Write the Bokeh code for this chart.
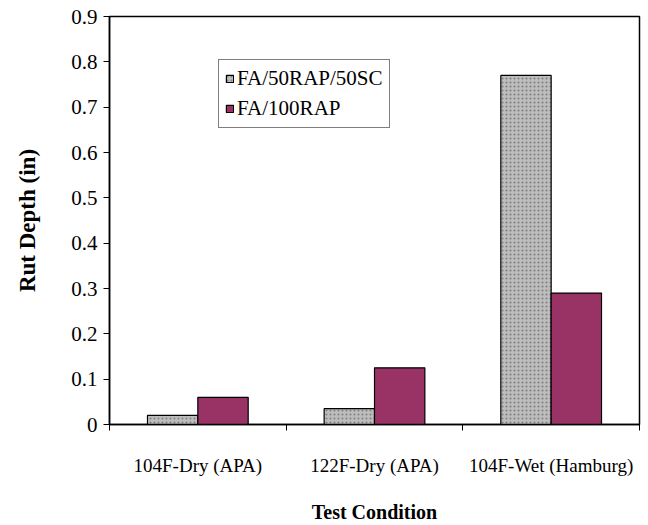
from bokeh.plotting import figure
from bokeh.models import ColumnDataSource, Range1d, FixedTicker, Legend, LegendItem
from bokeh.transform import dodge
from bokeh.embed import file_html
from bokeh.resources import INLINE

categories = ["104F-Dry (APA)", "122F-Dry (APA)", "104F-Wet (Hamburg)"]
series_names = ["FA/50RAP/50SC", "FA/100RAP"]
fa50_sc = [0.02, 0.035, 0.77]
fa100_rap = [0.06, 0.125, 0.29]
y_ticks = [0, 0.1, 0.2, 0.3, 0.4, 0.5, 0.6, 0.7, 0.8, 0.9]

xpos = [i + 0.5 for i in range(len(categories))]
src = ColumnDataSource(dict(x=xpos, a=fa50_sc, b=fa100_rap))

FONT = "Liberation Serif"

p = figure(width=648, height=525, output_backend="svg", toolbar_location=None,
           x_range=Range1d(0, len(categories)), y_range=Range1d(0, 0.9),
           min_border_left=109, min_border_right=9, min_border_top=16, min_border_bottom=100)
p.grid.visible = False
p.outline_line_color = "black"
p.outline_line_width = 1.5

bw = 0.285
r1 = p.vbar(x=dodge("x", -bw / 2, range=p.x_range), top="a", width=bw, source=src,
            fill_color="#bdbdbd", line_color="black", line_width=1.2,
            hatch_pattern="dot", hatch_color="#555555", hatch_scale=4, hatch_alpha=0.6)
r2 = p.vbar(x=dodge("x", bw / 2, range=p.x_range), top="b", width=bw, source=src,
            fill_color="#993366", line_color="black", line_width=1.2)

# x axis: labels at category centres, tick marks at category boundaries
xa = p.xaxis[0]
xa.ticker = FixedTicker(ticks=xpos, minor_ticks=list(range(len(categories) + 1)))
xa.major_label_overrides = {x: c for x, c in zip(xpos, categories)}
xa.major_tick_out = 0
xa.major_tick_in = 0
xa.minor_tick_out = 6
xa.minor_tick_in = 0
xa.minor_tick_line_color = "black"
xa.axis_line_color = "black"
xa.axis_line_width = 1.5
xa.major_label_standoff = 24
xa.major_label_text_font = FONT
xa.major_label_text_font_size = "19px"
xa.major_label_text_color = "black"
xa.axis_label = "Test Condition"
xa.axis_label_text_font = FONT
xa.axis_label_text_font_style = "bold"
xa.axis_label_text_font_size = "20px"
xa.axis_label_text_color = "black"
xa.axis_label_standoff = 22

ya = p.yaxis[0]
ya.ticker = FixedTicker(ticks=y_ticks, minor_ticks=[])
ya.major_label_overrides = {0: "0"}
ya.major_tick_out = 6
ya.major_tick_in = 0
ya.axis_line_color = "black"
ya.axis_line_width = 1.5
ya.major_label_standoff = 6
ya.major_label_text_font = FONT
ya.major_label_text_font_size = "21px"
ya.major_label_text_color = "black"
ya.axis_label = "Rut Depth (in)"
ya.axis_label_text_font = FONT
ya.axis_label_text_font_style = "bold"
ya.axis_label_text_font_size = "23px"
ya.axis_label_text_color = "black"
ya.axis_label_standoff = 28

legend = Legend(items=[LegendItem(label=series_names[0], renderers=[r1]),
                       LegendItem(label=series_names[1], renderers=[r2])],
                location=(109, 296), orientation="vertical",
                label_text_font=FONT, label_text_font_size="21px",
                label_text_color="black",
                glyph_width=9, glyph_height=9, label_standoff=3,
                label_height=25, spacing=5, padding=6, margin=0,
                border_line_color="black", border_line_width=1.5,
                background_fill_alpha=1)
p.add_layout(legend, "center")

open("out.html", "w").write(file_html(p, INLINE))
